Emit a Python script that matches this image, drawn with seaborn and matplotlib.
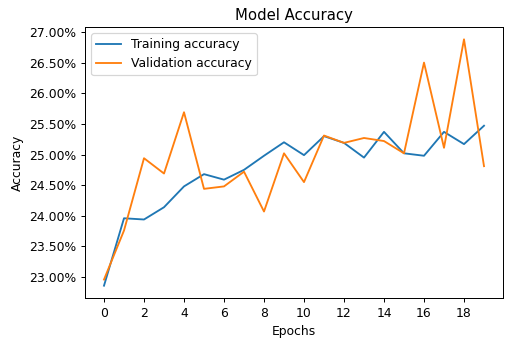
import matplotlib
matplotlib.use("Agg")
import matplotlib.pyplot as plt
import seaborn as sns
import pandas as pd
from matplotlib.ticker import FuncFormatter

epochs = list(range(20))
train_acc = [22.86, 23.96, 23.94, 24.14, 24.48, 24.68, 24.59, 24.75, 24.98, 25.20,
             24.99, 25.30, 25.19, 24.95, 25.37, 25.02, 24.98, 25.37, 25.17, 25.47]
val_acc = [22.96, 23.76, 24.94, 24.69, 25.69, 24.44, 24.48, 24.72, 24.07, 25.02,
           24.55, 25.31, 25.19, 25.27, 25.22, 25.02, 26.50, 25.11, 26.88, 24.81]

df = pd.DataFrame({
    "epoch": epochs * 2,
    "acc": [v / 100 for v in train_acc] + [v / 100 for v in val_acc],
    "series": ["Training accuracy"] * 20 + ["Validation accuracy"] * 20,
})

DPI = 89
fig = plt.figure(figsize=(522 / DPI, 344 / DPI), dpi=DPI)
ax = fig.add_axes([85 / 522, 1 - 298 / 344, (503 - 85) / 522, (298 - 27) / 344])
sns.lineplot(data=df, x="epoch", y="acc", hue="series",
             palette=["#1f77b4", "#ff7f0e"], ax=ax, linewidth=1.5)
ax.set_title("Model Accuracy")
ax.set_xlabel("Epochs")
ax.set_ylabel("Accuracy")
ax.set_xticks(range(0, 19, 2))
ax.set_yticks([0.23 + 0.005 * i for i in range(9)])
ax.yaxis.set_major_formatter(FuncFormatter(lambda v, p: f"{v:.2%}"))
ax.legend(loc="upper left", title=None)
fig.savefig("out.png", dpi=DPI)
